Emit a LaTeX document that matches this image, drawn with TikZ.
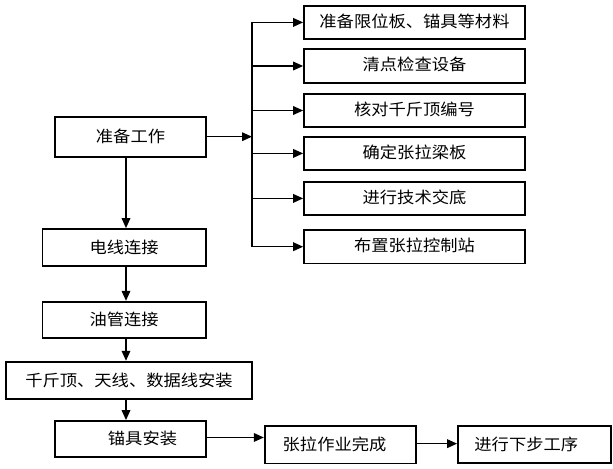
\documentclass[tikz,border=0pt]{standalone}
\usepackage{fontspec}
\newfontfamily\cjk{Noto Sans CJK SC}[FakeStretch=1.08]
\usetikzlibrary{arrows.meta}
\tikzset{
  box/.style={draw, line width=1.3pt, inner sep=0pt, font=\cjk\fontsize{12}{14}\selectfont},
  rbox/.style={box, minimum width=165.75pt, minimum height=25pt},
  arr/.style={line width=1pt, -{Triangle[length=7.5pt,width=6.5pt]}},
  ln/.style={line width=1pt}
}
\begin{document}
\begin{tikzpicture}[x=0.75pt,y=-0.75pt]
\useasboundingbox (0,0) rectangle (613,468);
% right column
\node[rbox] (r1) at (414.5,22.4) {\raisebox{3pt}{准备限位板、锚具等材料}};
\node[rbox] (r2) at (414.5,66) {\raisebox{3pt}{清点检查设备}};
\node[rbox] (r3) at (414.5,110.5) {\raisebox{3pt}{核对千斤顶编号}};
\node[rbox] (r4) at (414.5,153.4) {\raisebox{3pt}{确定张拉梁板}};
\node[rbox] (r5) at (414.5,198.4) {\raisebox{3pt}{进行技术交底}};
\node[rbox] (r6) at (414.5,246.7) {\raisebox{3pt}{布置张拉控制站}};
% left column
\node[box, minimum width=113.25pt, minimum height=30pt] (zb) at (130.5,136.7) {\raisebox{2pt}{准备工作}};
\node[box, minimum width=122.7pt, minimum height=27.75pt] (dx) at (124.2,247.5) {电线连接};
\node[box, minimum width=122.7pt, minimum height=27pt] (yg) at (124.2,319.7) {油管连接};
\node[box, minimum width=184.5pt, minimum height=28pt] (qj) at (129,380.3) {千斤顶、天线、数据线安装};
\node[box, minimum width=113.25pt, minimum height=26.8pt] (mj) at (130.5,438.8) {\hspace*{18pt}锚具安装};
\node[box, minimum width=113.25pt, minimum height=28pt] (zl) at (340.2,444.7) {\raisebox{-2pt}{张拉作业完成}\hspace*{8.5pt}};
\node[box, minimum width=114.5pt, minimum height=28pt] (jx) at (534.3,444.5) {\raisebox{-2pt}{进行下步工序}\hspace*{12pt}};
% trunk
\coordinate (tr) at (252,0);
\coordinate (col) at (126,0);
\draw[ln] (tr |- r1.west) -- (tr |- r6.west);
\foreach \n in {r1,r2,r3,r4,r5,r6} \draw[arr] (tr |- \n.west) -- (\n.west);
\draw[arr] (zb.east) -- (zb.east -| tr);
% vertical chain
\draw[arr] (zb.south -| col) -- (dx.north -| col);
\draw[arr] (dx.south -| col) -- (yg.north -| col);
\draw[arr] (yg.south -| col) -- (qj.north -| col);
\draw[arr] (qj.south -| col) -- (mj.north -| col);
% bottom row
\draw[arr] ([yshift=1pt]mj.east) -- ([yshift=1pt]mj.east -| zl.west);
\draw[arr] ([yshift=0.8pt]zl.east) -- ([yshift=0.8pt]zl.east -| jx.west);
\end{tikzpicture}
\end{document}
